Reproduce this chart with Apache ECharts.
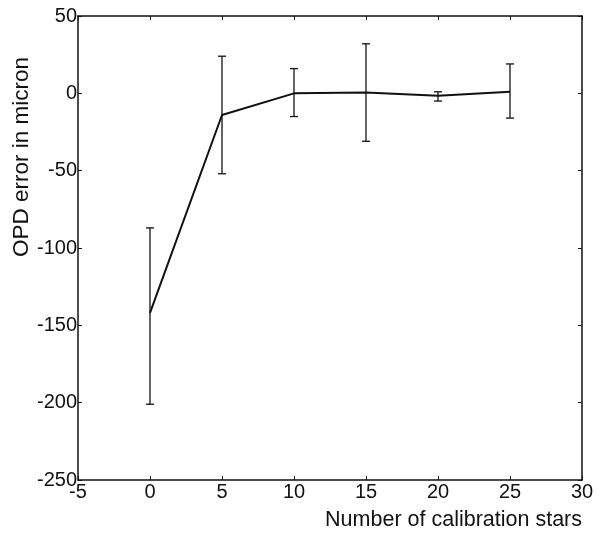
<!DOCTYPE html>
<html>
<head>
<meta charset="utf-8">
<script src="https://cdn.jsdelivr.net/npm/echarts@6/dist/echarts.min.js"></script>
<style>
  html, body { margin: 0; padding: 0; background: #fff; }
  #chart { width: 608px; height: 537px; }
</style>
</head>
<body>
<div id="chart"></div>
<script>
const stars = [0, 5, 10, 15, 20, 25];
const opdMean = [-142, -14, 0, 0.5, -1.5, 1];
const opdUpper = [-87, 24, 16, 32, 1, 19];
const opdLower = [-201, -52, -15, -31, -5, -16];

const xTicks = [-5, 30, 5];
const yTicks = [-250, 50, 50];

const chart = echarts.init(document.getElementById('chart'));
const font = 'Liberation Sans, Arial, sans-serif';

const boxAxis = {
  axisLine: { show: true, onZero: false, lineStyle: { color: '#111', width: 1.5 } },
  axisTick: { show: true, inside: true, length: 4, lineStyle: { color: '#111' } },
  splitLine: { show: false }
};

const option = {
  animation: false,
  grid: { left: 78, right: 26, top: 16, bottom: 57 },
  xAxis: [
    Object.assign({
      type: 'value', min: xTicks[0], max: xTicks[1], interval: xTicks[2],
      position: 'bottom',
      axisLabel: { color: '#111', fontSize: 20, fontFamily: font, margin: 2 }
    }, boxAxis),
    Object.assign({
      type: 'value', min: xTicks[0], max: xTicks[1], interval: xTicks[2],
      position: 'top', axisLabel: { show: false }
    }, boxAxis)
  ],
  yAxis: [
    Object.assign({
      type: 'value', min: yTicks[0], max: yTicks[1], interval: yTicks[2],
      position: 'left',
      axisLabel: { color: '#111', fontSize: 20, fontFamily: font, margin: 1 }
    }, boxAxis),
    Object.assign({
      type: 'value', min: yTicks[0], max: yTicks[1], interval: yTicks[2],
      position: 'right', axisLabel: { show: false }
    }, boxAxis)
  ],
  graphic: [
    {
      type: 'text', left: 10, top: 57, rotation: Math.PI / 2,
      style: { text: 'OPD error in micron', fill: '#111', fontSize: 22.5, fontFamily: font }
    },
    {
      type: 'text', right: 26, top: 509,
      style: { text: 'Number of calibration stars', fill: '#111', fontSize: 21.5, fontFamily: font }
    }
  ],
  series: [
    {
      type: 'line',
      data: stars.map((s, i) => [s, opdMean[i]]),
      symbol: 'none',
      lineStyle: { color: '#111', width: 2 }
    },
    {
      type: 'custom',
      data: stars.map((s, i) => [s, opdLower[i], opdUpper[i]]),
      renderItem: function (params, api) {
        const lo = api.coord([api.value(0), api.value(1)]);
        const hi = api.coord([api.value(0), api.value(2)]);
        const w = 4;
        const st = { stroke: '#111', lineWidth: 1.3 };
        return {
          type: 'group',
          children: [
            { type: 'line', shape: { x1: hi[0], y1: hi[1], x2: lo[0], y2: lo[1] }, style: st },
            { type: 'line', shape: { x1: hi[0] - w, y1: hi[1], x2: hi[0] + w, y2: hi[1] }, style: st },
            { type: 'line', shape: { x1: lo[0] - w, y1: lo[1], x2: lo[0] + w, y2: lo[1] }, style: st }
          ]
        };
      }
    }
  ]
};

chart.setOption(option);
</script>
</body>
</html>
